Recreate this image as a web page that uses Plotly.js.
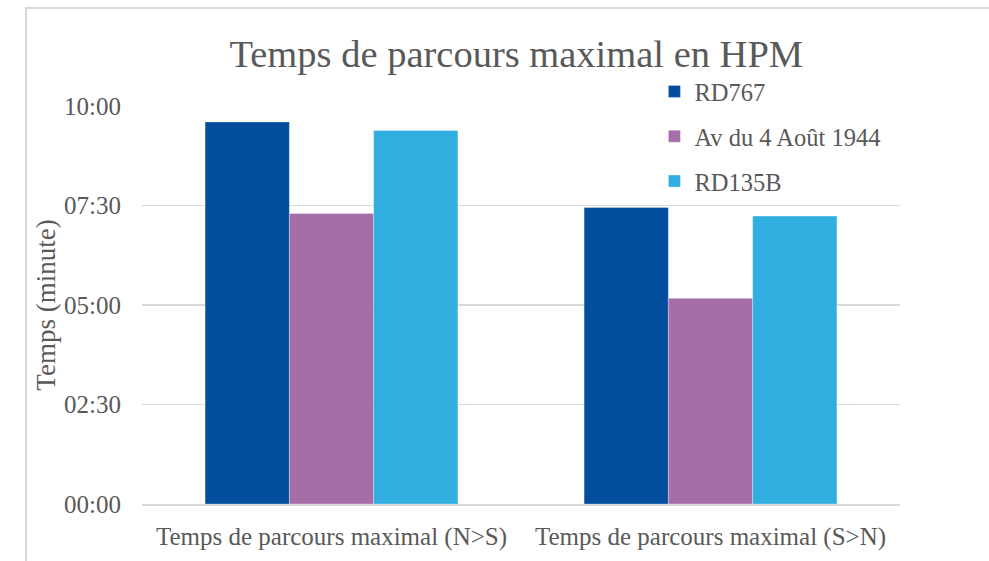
<!DOCTYPE html>
<html>
<head>
<meta charset="utf-8">
<script src="https://cdn.plot.ly/plotly-3.0.1.min.js"></script>
<style>
  html, body { margin: 0; padding: 0; background: #ffffff; }
  #wrap { position: relative; width: 989px; height: 561px; }
  #chart { width: 989px; height: 561px; }
  #frame { position: absolute; left: 25px; top: 7px; width: 970px; height: 560px;
           border-left: 2px solid #d9d9d9; border-top: 2px solid #d9d9d9; pointer-events: none; }
</style>
</head>
<body>
<div id="wrap">
  <div id="chart"></div>
  <div id="frame"></div>
</div>
<script>
// Categories
const categories = ["Temps de parcours maximal (N>S)", "Temps de parcours maximal (S>N)"];
// Series values in seconds
const seriesNames = ["RD767", "Av du 4 Août 1944", "RD135B"];
const rd767 = [576, 447];
const av4aout = [438, 310];
const rd135b = [563, 434];
// Y tick values (seconds) and labels
const yTickVals = [0, 150, 300, 450, 600];
const yTickText = ["00:00", "02:30", "05:00", "07:30", "10:00"];

const colors = ["#024e9c", "#a66ea8", "#31aee0"];
const seriesVals = [rd767, av4aout, rd135b];

function fmt(s) {
  const m = Math.floor(s / 60), sec = Math.round(s % 60);
  return String(m).padStart(2, "0") + ":" + String(sec).padStart(2, "0");
}

const font = "Liberation Serif";

const traces = seriesVals.map((vals, i) => ({
  type: "bar",
  name: "<span style=\"font-family:'Liberation Serif',serif\">" + seriesNames[i] + "</span>",
  x: categories,
  y: vals,
  legendgroup: "g" + i,
  marker: { color: colors[i], line: { color: "rgba(255,255,255,0.6)", width: 0.5 } },
  hovertext: vals.map(fmt),
  hoverinfo: "text"
}));

const layout = {
  width: 989, height: 561,
  margin: { l: 142, r: 89, t: 106, b: 57 },
  paper_bgcolor: "#ffffff",
  plot_bgcolor: "#ffffff",
  barmode: "group",
  bargap: 0.333,
  bargroupgap: 0,
  font: { family: font, color: "#595959", size: 24 },
  title: {
    text: "Temps de parcours maximal en HPM",
    font: { family: font, size: 38.5, color: "#595959" },
    x: 0.522, xref: "container", xanchor: "center",
    y: 0.905, yref: "container", yanchor: "middle"
  },
  xaxis: {
    type: "category",
    tickfont: { family: font, size: 25, color: "#595959" },
    showline: true, linecolor: "#d9d9d9", linewidth: 1.5,
    ticks: "", ticklabelstandoff: 9,
    showgrid: false, zeroline: false
  },
  yaxis: {
    range: [0, 600],
    tickvals: yTickVals,
    ticktext: yTickText,
    tickfont: { family: font, size: 25, color: "#595959" },
    ticks: "", ticklabelstandoff: 20,
    showgrid: true, gridcolor: "#d9d9d9", gridwidth: 1.5,
    zeroline: false, showline: false,
    automargin: false,
    title: { text: "Temps (minute)", font: { family: font, size: 27, color: "#595959" }, standoff: 0 }
  },
  legend: {
    x: 0.676, xanchor: "left",
    y: 1.093, yanchor: "top",
    bgcolor: "rgba(255,255,255,0)",
    font: { family: font, size: 24.5, color: "#595959" },
    traceorder: "grouped",
    tracegroupgap: 10,
    itemwidth: 30
  },
  showlegend: true
};

Plotly.newPlot("chart", traces, layout, { displayModeBar: false, staticPlot: true });
</script>
</body>
</html>
